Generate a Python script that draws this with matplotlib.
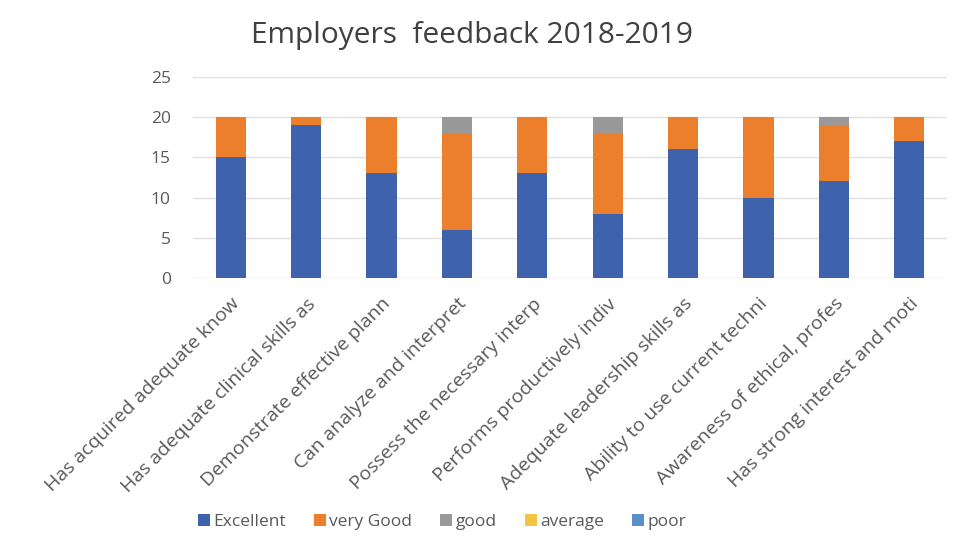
import matplotlib
matplotlib.use("Agg")
import matplotlib.pyplot as plt
import numpy as np

plt.rcParams['font.family'] = ['Open Sans', 'DejaVu Sans']

# categories and counts
categories = [
    "Has acquired adequate know",
    "Has adequate clinical skills as",
    "Demonstrate effective plann",
    "Can analyze and interpret",
    "Possess the necessary interp",
    "Performs productively indiv",
    "Adequate leadership skills as",
    "Ability to use current techni",
    "Awareness of ethical, profes",
    "Has strong interest and moti",
]
excellent = [15, 19, 13, 6, 13, 8, 16, 10, 12, 17]
very_good = [5, 1, 7, 12, 7, 10, 4, 10, 7, 3]
good = [0, 0, 0, 2, 0, 2, 0, 0, 1, 0]
average = [0, 0, 0, 0, 0, 0, 0, 0, 0, 0]
poor = [0, 0, 0, 0, 0, 0, 0, 0, 0, 0]

series_names = ["Excellent", "very Good", "good", "average", "poor"]
series_vals = [excellent, very_good, good, average, poor]
colors = ["#3f62ad", "#ec7f2c", "#999999", "#f5c242", "#5b8fc8"]

txt = "#595959"

fig = plt.figure(figsize=(9.63, 5.6), dpi=100)
ax = fig.add_axes([0.2004, 0.5036, 0.783, 0.359])

x = np.arange(len(categories))
bottom = np.zeros(len(categories))
for name, vals, col in zip(series_names, series_vals, colors):
    vals = np.array(vals, dtype=float)
    ax.bar(x, vals, 0.4, bottom=bottom, color=col, label=name, zorder=3)
    bottom += vals

ax.set_xlim(-0.5, len(categories) - 0.5)
ax.set_ylim(0, 25)
ax.set_yticks([0, 5, 10, 15, 20, 25])
ax.grid(axis='y', color='#e0e0e0', linewidth=1, zorder=0)
for s in ax.spines.values():
    s.set_visible(False)
ax.tick_params(axis='both', length=0, colors=txt, labelsize=12.5)
ax.tick_params(axis='y', pad=16)
ax.tick_params(axis='x', pad=12)
ax.set_xticks(x)
ax.set_xticklabels(categories, rotation=45, ha='right', rotation_mode='anchor',
                   fontsize=14, color=txt)

fig.text(0.49, 0.937, "Employers  feedback 2018-2019", ha='center', va='center',
         fontsize=21.5, color='#404040')

fig.legend(loc='center', bbox_to_anchor=(0.459, 0.068), ncol=5, frameon=False,
           fontsize=12.5, labelcolor=txt, handlelength=0.7, handleheight=0.7,
           handletextpad=0.2, columnspacing=1.6)

fig.savefig("out.png", dpi=100)
